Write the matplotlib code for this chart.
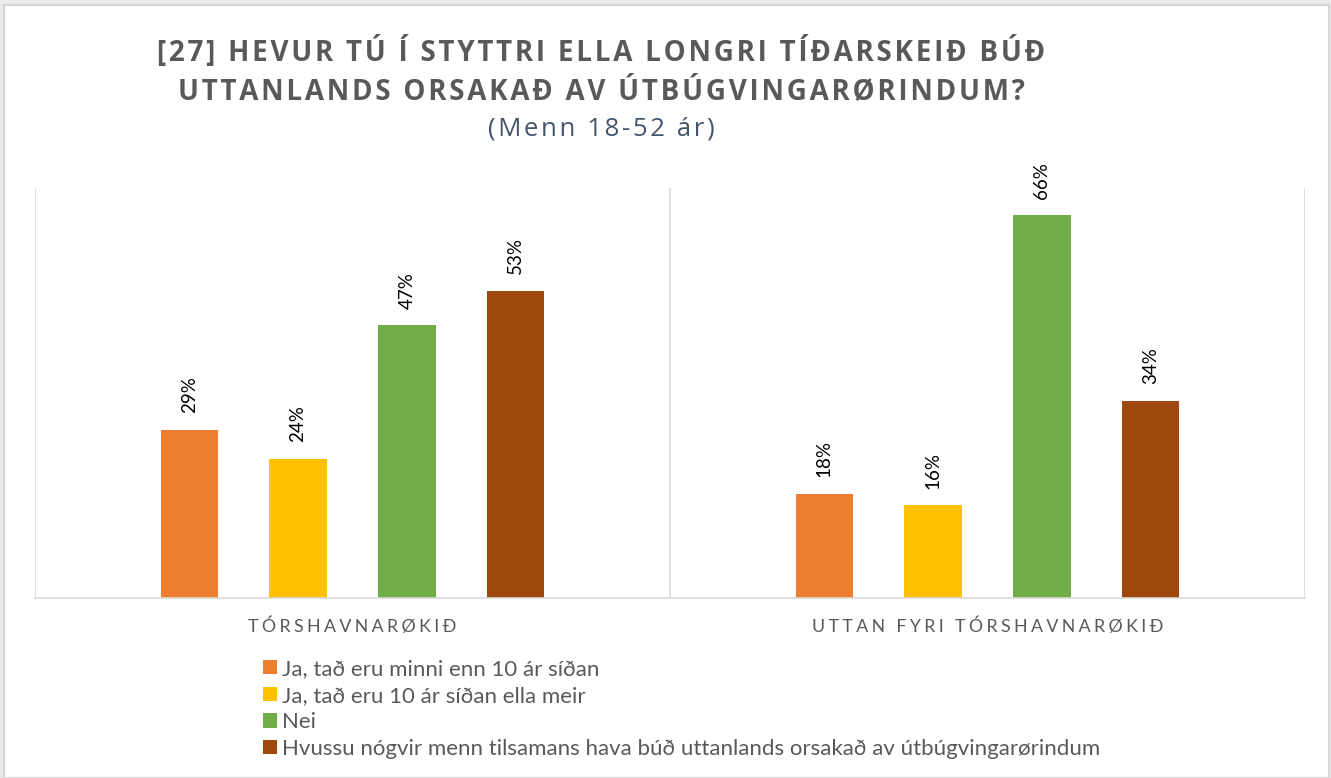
import numpy as np
import matplotlib.pyplot as plt
from matplotlib.patches import Rectangle

# data
groups = ["TÓRSHAVNARØKIÐ", "UTTAN FYRI TÓRSHAVNARØKIÐ"]
series = [
    "Ja, tað eru minni enn 10 ár síðan",
    "Ja, tað eru 10 ár síðan ella meir",
    "Nei",
    "Hvussu nógvir menn tilsamans hava búð uttanlands orsakað av útbúgvingarørindum",
]
values = [
    [29, 18],
    [24, 16],
    [47, 66],
    [53, 34],
]
colors = ["#ED7D31", "#FFC000", "#70AD47", "#9E480E"]

title_1 = "[27] HEVUR TÚ Í STYTTRI ELLA LONGRI TÍÐARSKEIÐ BÚÐ"
title_2 = "UTTANLANDS ORSAKAÐ AV ÚTBÚGVINGARØRINDUM?"
subtitle = "(Menn 18-52 ár)"


def spaced(s, sep="\u200a"):
    return sep.join(s)


W, H = 1331, 778
fig = plt.figure(figsize=(W / 100, H / 100), dpi=100, facecolor="#ebebeb")
fig.patches.append(Rectangle((4 / W, 0), (1329 - 4) / W, (778 - 5) / H,
                             transform=fig.transFigure, facecolor="white",
                             edgecolor="#d6d6d6", linewidth=1.5, zorder=-5))

ax = fig.add_axes([35 / W, (H - 598) / H, (1305 - 35) / W, (598 - 188) / H])
ax.set_facecolor("none")
ax.set_zorder(2)

x = np.arange(len(groups))
step = 0.1715
width = 0.09
for i, (name, vals, c) in enumerate(zip(series, values, colors)):
    pos = x + (i - 1.5) * step
    bars = ax.bar(pos, vals, width, color=c, label=name, zorder=2)
    for b, v in zip(bars, vals):
        ax.annotate(f"{v}%", (b.get_x() + b.get_width() / 2, v),
                    xytext=(0, 12), textcoords="offset points",
                    rotation=90, ha="center", va="bottom",
                    fontsize=13.5, color="#000000", family=["Lato", "DejaVu Sans"])

ax.set_xlim(-0.5, 1.5)
ax.set_ylim(0, 70.7)
ax.set_yticks([])
ax.set_xticks([])
for s in ["top", "right", "left"]:
    ax.spines[s].set_visible(False)
ax.spines["bottom"].set_color("#d9d9d9")
ax.spines["bottom"].set_linewidth(1.2)
for xv in [-0.5, 0.5, 1.5]:
    ax.axvline(xv, color="#d9d9d9", linewidth=1.2, zorder=1)

for xi, g in zip(x, groups):
    ax.text(xi, -0.07, spaced(g, "\u2009\u200a"), transform=ax.get_xaxis_transform(),
            ha="center", va="center", fontsize=12.8, color="#595959",
            family=["Lato", "DejaVu Sans"])

fig.text(601 / W, 1 - 52 / H, spaced(title_1), ha="center", va="center",
         fontsize=20, fontweight="bold", color="#595959",
         family=["Open Sans", "DejaVu Sans"])
fig.text(601 / W, 1 - 92 / H, spaced(title_2), ha="center", va="center",
         fontsize=20, fontweight="bold", color="#595959",
         family=["Open Sans", "DejaVu Sans"])
fig.text(601 / W, 1 - 129 / H, spaced(subtitle), ha="center", va="center",
         fontsize=18.5, color="#44546A", family=["Open Sans", "DejaVu Sans"])

fig.legend(loc="upper left", bbox_to_anchor=(252 / W, 1 - 648 / H), frameon=False,
           prop={"family": "Lato", "size": 16}, labelcolor="#595959",
           handlelength=0.62, handleheight=0.62, handletextpad=0.25,
           labelspacing=0.3, borderpad=0)

fig.savefig("out.png", dpi=100, facecolor=fig.get_facecolor())
